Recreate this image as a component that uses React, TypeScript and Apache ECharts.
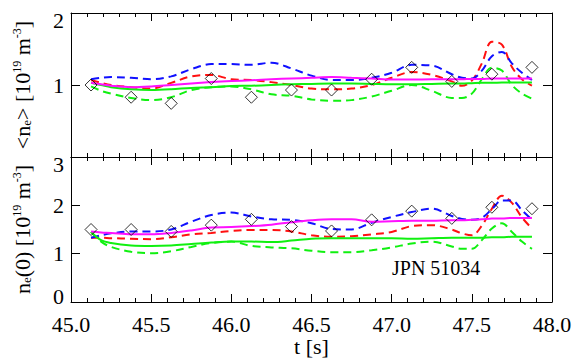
import React, { useEffect, useRef } from "react";
import * as echarts from "echarts";

// time base of the profile curves [s]
const tLine = [
  45.125, 45.1875, 45.25, 45.375, 45.5, 45.625, 45.75, 45.875, 46.0, 46.125,
  46.25, 46.375, 46.5, 46.625, 46.75, 46.875, 47.0, 47.125, 47.25, 47.375,
  47.4375, 47.5, 47.5625, 47.625, 47.6875, 47.75, 47.8125, 47.875,
];
// diamond (measured) time points
const tMeas = [45.125, 45.375, 45.625, 45.875, 46.125, 46.375, 46.625, 46.875, 47.125, 47.375, 47.625, 47.875];

// top panel: <n_e>
const topMagenta = [1.03, 1.01, 0.99, 0.97, 0.98, 1.0, 1.02, 1.04, 1.055, 1.065, 1.08, 1.09, 1.1, 1.11, 1.1, 1.09, 1.075, 1.075, 1.08, 1.08, 1.08, 1.085, 1.085, 1.09, 1.09, 1.09, 1.09, 1.09];
const topGreen = [1.03, 1.0, 0.97, 0.94, 0.93, 0.94, 0.96, 0.97, 0.985, 0.99, 1.0, 1.01, 1.015, 1.02, 1.02, 1.015, 1.01, 1.01, 1.015, 1.02, 1.02, 1.025, 1.03, 1.03, 1.035, 1.035, 1.035, 1.035];
const topBlueDash = [1.08, 1.1, 1.11, 1.1, 1.08, 1.12, 1.22, 1.29, 1.29, 1.28, 1.31, 1.23, 1.13, 1.07, 1.07, 1.1, 1.17, 1.28, 1.27, 1.15, 1.1, 1.09, 1.2, 1.4, 1.46, 1.3, 1.17, 1.07];
const topRedDash = [1.07, 1.03, 1.0, 0.97, 0.95, 1.03, 1.12, 1.14, 1.08, 1.07, 1.04, 1.0, 0.95, 0.94, 0.95, 1.0, 1.1, 1.18, 1.14, 1.05, 0.99, 1.06, 1.3, 1.6, 1.56, 1.25, 1.08, 0.99];
const topGreenDash = [0.98, 0.92, 0.88, 0.82, 0.79, 0.83, 0.93, 0.97, 0.98, 0.94, 0.87, 0.85, 0.8, 0.78, 0.79, 0.84, 0.92, 1.0, 0.92, 0.82, 0.82, 0.88, 1.08, 1.24, 1.2, 1.0, 0.88, 0.81];
const topMeas = [1.0, 0.83, 0.745, 1.09, 0.83, 0.93, 0.93, 1.08, 1.245, 1.05, 1.15, 1.245];

// bottom panel: n_e(0)
const botMagenta = [1.46, 1.44, 1.43, 1.4, 1.4, 1.43, 1.48, 1.54, 1.55, 1.57, 1.6, 1.65, 1.69, 1.71, 1.71, 1.66, 1.67, 1.68, 1.68, 1.69, 1.69, 1.7, 1.71, 1.73, 1.73, 1.74, 1.74, 1.74];
const botGreen = [1.45, 1.28, 1.22, 1.17, 1.16, 1.17, 1.2, 1.23, 1.25, 1.25, 1.24, 1.27, 1.31, 1.32, 1.32, 1.32, 1.32, 1.31, 1.32, 1.33, 1.33, 1.33, 1.33, 1.34, 1.34, 1.35, 1.35, 1.35];
const botBlueDash = [1.33, 1.38, 1.42, 1.46, 1.46, 1.5, 1.66, 1.8, 1.85, 1.77, 1.71, 1.7, 1.63, 1.51, 1.5, 1.64, 1.76, 1.86, 1.93, 1.78, 1.72, 1.7, 1.74, 1.92, 2.1, 2.1, 1.9, 1.7];
const botRedDash = [1.33, 1.33, 1.32, 1.31, 1.3, 1.34, 1.4, 1.43, 1.47, 1.49, 1.49, 1.46, 1.38, 1.35, 1.36, 1.4, 1.45, 1.57, 1.59, 1.5, 1.42, 1.38, 1.58, 1.93, 2.2, 2.05, 1.75, 1.52];
const botGreenDash = [1.45, 1.25, 1.14, 1.04, 1.01, 1.05, 1.14, 1.22, 1.25, 1.16, 1.13, 1.11, 1.06, 1.03, 1.03, 1.07, 1.13, 1.21, 1.25, 1.15, 1.1, 1.1, 1.28, 1.52, 1.63, 1.45, 1.25, 1.1];
const botMeas = [1.5, 1.5, 1.46, 1.59, 1.71, 1.56, 1.47, 1.7, 1.88, 1.73, 1.96, 1.93];

const xTicks = [45.0, 45.5, 46.0, 46.5, 47.0, 47.5, 48.0];
const shotLabel = "JPN 51034";

const FONT = "Liberation Serif, Times New Roman, Times, serif";
const BLUE = "#1010ff";
const RED = "#ff1010";
const GREEN = "#10f010";
const MAGENTA = "#ff10ff";

export default function App() {
  const ref = useRef<HTMLDivElement>(null);
  useEffect(() => {
    if (!ref.current) return;
    document.body.style.margin = "0";
    const chart = echarts.init(ref.current, null, { renderer: "svg" });
    const pair = (t: number[], v: number[]) => t.map((x, i) => [x, v[i]]);
    const line = (idx: number, v: number[], color: string, dashed: boolean, z: number) => ({
      type: "line",
      xAxisIndex: idx * 2,
      yAxisIndex: idx * 2,
      data: pair(tLine, v),
      smooth: 0.35,
      showSymbol: false,
      symbol: "none",
      z,
      lineStyle: { color, width: 2, type: dashed ? [8, 5] : "solid" },
    });
    const meas = (idx: number, v: number[]) => ({
      type: "scatter",
      xAxisIndex: idx * 2,
      yAxisIndex: idx * 2,
      data: pair(tMeas, v),
      symbol: "diamond",
      symbolSize: 12,
      z: 10,
      itemStyle: { color: "rgba(0,0,0,0)", borderColor: "#000", borderWidth: 1 },
    });
    const xAx = (grid: number, pos: string, labels: boolean) => ({
      type: "value",
      gridIndex: grid,
      position: pos,
      min: xTicks[0],
      max: xTicks[xTicks.length - 1],
      interval: 0.5,
      axisLine: { show: true, onZero: false, lineStyle: { color: "#000", width: 1 } },
      axisTick: { show: true, inside: true, length: 8, lineStyle: { color: "#000" } },
      minorTick: { show: true, splitNumber: 5, length: 4, lineStyle: { color: "#000" } },
      splitLine: { show: false },
      axisLabel: {
        show: labels,
        color: "#000",
        fontFamily: FONT,
        fontSize: 22,
        margin: 11,
        formatter: (v: number) => v.toFixed(1),
      },
      ...(labels
        ? {
            name: "t [s]",
            nameLocation: "middle",
            nameGap: 25,
            nameTextStyle: { color: "#000", fontFamily: FONT, fontSize: 22 },
          }
        : {}),
    });
    const rich = {
      t: { fontFamily: FONT, fontSize: 22, color: "#000" },
      sub: { fontFamily: FONT, fontSize: 13, color: "#000", verticalAlign: "bottom" },
      sup: { fontFamily: FONT, fontSize: 12, color: "#000", verticalAlign: "top" },
    };
    const labRich = {
      hi: { fontFamily: FONT, fontSize: 22, color: "#000", padding: [15, 0, 0, 0] },
      lo: { fontFamily: FONT, fontSize: 22, color: "#000", padding: [0, 0, 12, 0] },
    };
    const yAx = (grid: number, pos: string, max: number, name?: string, showMin = true) => ({
      type: "value",
      gridIndex: grid,
      position: pos,
      min: 0,
      max,
      interval: 1,
      axisLine: { show: true, onZero: false, lineStyle: { color: "#000", width: 1 } },
      axisTick: { show: true, inside: true, length: 9, lineStyle: { color: "#000" } },
      splitLine: { show: false },
      axisLabel: {
        show: !!name,
        color: "#000",
        fontFamily: FONT,
        fontSize: 22,
        margin: 7,
        showMinLabel: showMin,
        formatter: (v: number) => (v === max ? `{hi|${v}}` : v === 0 ? `{lo|${v}}` : `${v}`),
        rich: labRich,
      },
      ...(name
        ? {
            name,
            nameLocation: "middle",
            nameRotate: 90,
            nameGap: 38,
            nameTextStyle: { color: "#000", fontFamily: FONT, fontSize: 22, rich },
          }
        : {}),
    });

    chart.setOption({
      animation: false,
      backgroundColor: "#fff",
      grid: [
        { left: 71, top: 13, width: 481, height: 144 },
        { left: 71, top: 157, width: 481, height: 145 },
      ],
      xAxis: [xAx(0, "bottom", false), xAx(0, "top", false), xAx(1, "bottom", true), xAx(1, "top", false)],
      yAxis: [
        yAx(0, "left", 2, "{t|<n}{sub|e}{t|> [10}{sup|19}{t| m}{sup|-3}{t|]}", false),
        yAx(0, "right", 2),
        yAx(1, "left", 3, "{t|n}{sub|e}{t|(0) [10}{sup|19}{t| m}{sup|-3}{t|]}"),
        yAx(1, "right", 3),
      ],
      series: [
        line(0, topGreenDash, GREEN, true, 2),
        line(0, topRedDash, RED, true, 3),
        line(0, topBlueDash, BLUE, true, 4),
        line(0, topGreen, GREEN, false, 5),
        line(0, topMagenta, MAGENTA, false, 6),
        meas(0, topMeas),
        line(1, botGreenDash, GREEN, true, 2),
        line(1, botRedDash, RED, true, 3),
        line(1, botBlueDash, BLUE, true, 4),
        line(1, botGreen, GREEN, false, 5),
        line(1, botMagenta, MAGENTA, false, 6),
        meas(1, botMeas),
      ],
      graphic: [
        {
          type: "text",
          x: 392,
          y: 268,
          style: {
            text: shotLabel,
            fontFamily: FONT,
            fontSize: 20,
            fill: "#000",
            textVerticalAlign: "middle",
          },
        },
      ],
    });
    return () => chart.dispose();
  }, []);
  return <div ref={ref} style={{ width: 576, height: 363 }} />;
}
